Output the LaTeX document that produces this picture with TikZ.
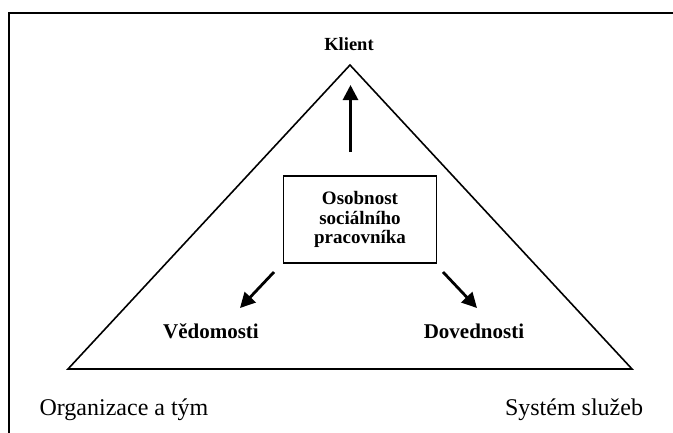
\documentclass[tikz,border=0pt]{standalone}
\usepackage{fontspec}
\setmainfont{Liberation Serif}
\usetikzlibrary{arrows.meta}
\begin{document}
\begin{tikzpicture}[x=1pt,y=-1pt,
  boldlbl/.style={font=\fontsize{21}{23}\selectfont\bfseries, inner sep=0pt, anchor=base},
  plainlbl/.style={font=\fontsize{24}{26}\selectfont, inner sep=0pt, anchor=base},
  bigarrow/.style={line width=2.8pt, -{Triangle[length=15pt,width=15pt]}},
  tri/.style={line width=1.6pt, line join=miter},
  centerbox/.style={draw, line width=1.8pt, minimum width=153pt, minimum height=87pt,
    align=center, inner sep=0pt, font=\fontsize{19}{19.5}\selectfont\bfseries}]
\useasboundingbox (0,0) rectangle (673,432);
\fill[white] (0,0) rectangle (673,432);
% outer frame (cut at right and bottom)
\draw[line width=2pt] (9,440) -- (9,13) -- (680,13);
% triangle
\coordinate (apex) at (350,65);
\coordinate (bl) at (68,369);
\coordinate (br) at (632,369);
\draw[tri] (apex) -- (br) -- (bl) -- cycle;
% labels
\node[boldlbl, font=\fontsize{18.5}{20}\selectfont\bfseries] (klient) at (349,50) {Klient};
\node[centerbox] (box) at (360,219.5) {Osobnost\\sociálního\\pracovníka};
\node[boldlbl] (ved) at (211,338) {Vědomosti};
\node[boldlbl] (dov) at (474,338) {Dovednosti};
\node[plainlbl] (org) at (124,415) {Organizace a tým};
\node[plainlbl] (sys) at (574,415) {Systém služeb};
% arrows
\coordinate (upS) at (350.5,152);
\coordinate (upE) at (350.5,85);
\coordinate (lS) at (274,272);
\coordinate (lE) at (240,308);
\coordinate (rS) at (443,272);
\coordinate (rE) at (477,308);
\draw[bigarrow] (upS) -- (upE);
\draw[bigarrow] (lS) -- (lE);
\draw[bigarrow] (rS) -- (rE);
\end{tikzpicture}
\end{document}
